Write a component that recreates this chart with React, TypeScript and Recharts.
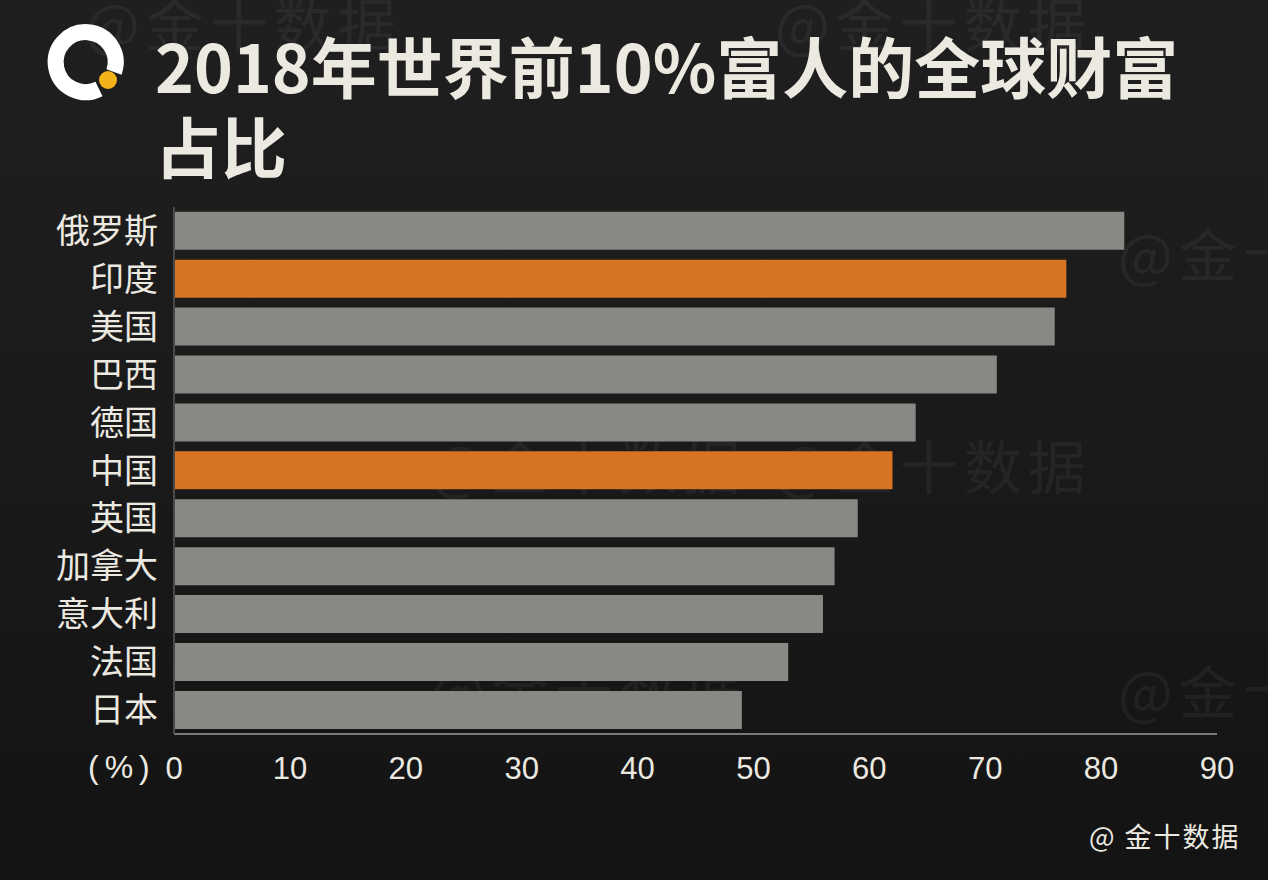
import React from "react";
import { BarChart, Bar, XAxis, YAxis, Cell } from "recharts";

const countries = ["俄罗斯", "印度", "美国", "巴西", "德国", "中国", "英国", "加拿大", "意大利", "法国", "日本"];
const shares = [82, 77, 76, 71, 64, 62, 59, 57, 56, 53, 49];
const highlighted = ["印度", "中国"];
const xTicks = [0, 10, 20, 30, 40, 50, 60, 70, 80, 90];
const titleLines = ["2018年世界前10%富人的全球财富", "占比"];
const watermark = "@金十数据";
const credit = "@ 金十数据";
const unitLabel = "(%)";

const data = countries.map((c, i) => ({ country: c, value: shares[i] }));

const TEXT = "#ece9e1";
const GRAY = "#878984";
const ORANGE = "#d67422";
const CJK = '"Noto Sans CJK SC", "Noto Sans", sans-serif';

const watermarkPos = [
  { left: 85, top: -12 },
  { left: 775, top: -12 },
  { left: 1118, top: 218 },
  { left: 430, top: 430 },
  { left: 775, top: 430 },
  { left: 430, top: 655 },
  { left: 1118, top: 655 },
];

export default function App() {
  return (
    <div
      style={{
        position: "absolute",
        left: 0,
        top: 0,
        width: 1268,
        height: 880,
        overflow: "hidden",
        background: "linear-gradient(180deg, #1f1f1f 0%, #1a1a1a 50%, #131313 100%)",
        fontFamily: CJK,
      }}
    >
      {watermarkPos.map((p, i) => (
        <div
          key={i}
          style={{
            position: "absolute",
            left: p.left,
            top: p.top,
            fontSize: 58,
            color: "rgba(255,255,255,0.05)",
            whiteSpace: "nowrap",
            letterSpacing: 6,
            lineHeight: 1.2,
          }}
        >
          {watermark}
        </div>
      ))}
      <svg style={{ position: "absolute", left: 0, top: 0 }} width={200} height={140}>
        <path
          d="M 114 72 A 30 30 0 1 0 99 89"
          fill="none"
          stroke="#ffffff"
          strokeWidth={16}
        />
        <circle cx={108} cy={80} r={9} fill="#f5b31a" />
      </svg>
      <div
        style={{
          position: "absolute",
          left: 155,
          top: 24,
          fontSize: 66,
          fontWeight: 700,
          color: TEXT,
          lineHeight: "80px",
          whiteSpace: "nowrap",
        }}
      >
        {titleLines.map((t, i) => (
          <div key={i}>{t}</div>
        ))}
      </div>
      <BarChart
        width={1268}
        height={880}
        data={data}
        layout="vertical"
        margin={{ top: 207, right: 51, bottom: 106, left: 0 }}
        barCategoryGap="10%"
        style={{ position: "absolute", left: 0, top: 0 }}
      >
        <XAxis
          type="number"
          domain={[0, 90]}
          ticks={xTicks}
          interval={0}
          height={40}
          axisLine={{ stroke: "#7a7a7a", strokeWidth: 2 }}
          tickLine={false}
          tickSize={18}
          tickMargin={5}
          tick={{ fill: TEXT, fontSize: 31, fontFamily: '"Liberation Sans", Arial, sans-serif' }}
        />
        <YAxis
          type="category"
          dataKey="country"
          width={174}
          axisLine={{ stroke: "#4a4a4a", strokeWidth: 2 }}
          tickLine={false}
          tickSize={14}
          tickMargin={2}
          interval={0}
          tick={{ fill: TEXT, fontSize: 34, fontFamily: CJK }}
        />
        <Bar dataKey="value" isAnimationActive={false}>
          {data.map((d) => (
            <Cell key={d.country} fill={highlighted.includes(d.country) ? ORANGE : GRAY} />
          ))}
        </Bar>
      </BarChart>
      <div
        style={{
          position: "absolute",
          left: 88,
          top: 749,
          fontSize: 32,
          color: TEXT,
          fontFamily: '"Liberation Sans", Arial, sans-serif',
          letterSpacing: 6,
          whiteSpace: "nowrap",
        }}
      >
        {unitLabel}
      </div>
      <div
        style={{
          position: "absolute",
          left: 1089,
          top: 816,
          fontSize: 27,
          color: TEXT,
          whiteSpace: "nowrap",
          letterSpacing: 2,
        }}
      >
        {credit}
      </div>
    </div>
  );
}
